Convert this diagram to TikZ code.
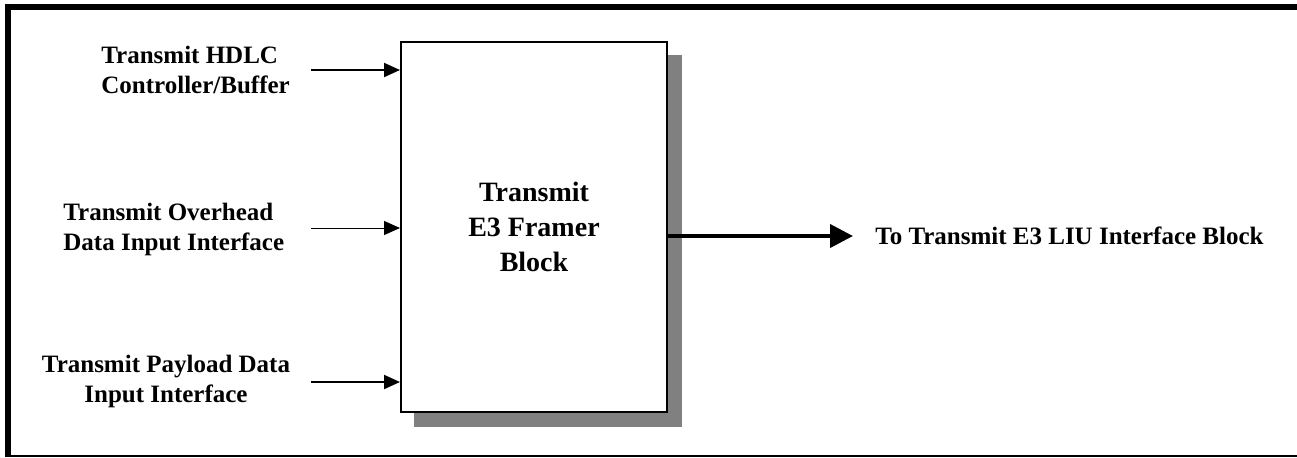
\documentclass[tikz,border=0pt]{standalone}
\usepackage{fontspec}
\setmainfont{Liberation Serif}
\usetikzlibrary{arrows.meta,backgrounds}

\begin{document}
\begin{tikzpicture}[x=0.5pt,y=-0.5pt,
  lbl/.style={font=\fontsize{12.5}{15}\selectfont\bfseries,inner sep=0pt},
  inarr/.style={line width=1pt,-{Triangle[length=8pt,width=7pt]}}]
  % shadow offset (px), arrow start x
  \def\SH{14}\def\xS{311}
  \useasboundingbox (0,0) rectangle (1297,457);
  % frame: heavy top + left, thin bottom
  \draw[line width=3pt] (7.5,457) -- (7.5,7) -- (1297,7);
  \draw[line width=1pt] (7.5,455.5) -- (1297,455.5);
  % framer block
  \node[draw,line width=1pt,fill=white,minimum width=133pt,minimum height=185pt,
    font=\fontsize{14}{17.5}\selectfont\bfseries,align=center] (blk) at (534,227)
    {Transmit\\E3 Framer\\Block};
  \begin{scope}[on background layer]
    \fill[black!50]([shift={(\SH,\SH)}]blk.south west) rectangle ([shift={(\SH,\SH)}]blk.north east);
  \end{scope}
  % inputs
  \node[lbl,align=left,anchor=west] (hdlc) at (101,70) {Transmit HDLC\\Controller/Buffer};
  \node[lbl,align=left,anchor=west] (ovh) at (63,229) {Transmit Overhead\\Data Input Interface};
  \node[lbl,align=center] (pay) at (166,381) {Transmit Payload Data\\Input Interface};
  \coordinate (hdlcS) at (\xS,70);
  \coordinate (ovhS) at (\xS,228);
  \coordinate (payS) at (\xS,382);
  \draw[inarr] (hdlcS) -- (hdlcS -| blk.west);
  \draw[inarr,line width=0.5pt] (ovhS) -- (ovhS -| blk.west);
  \draw[inarr] (payS) -- (payS -| blk.west);
  % output
  \node[lbl,anchor=west] (liu) at (875,236) {To Transmit E3 LIU Interface Block};
  \draw[line width=2pt,-{Triangle[length=11.5pt,width=11.5pt]}] (blk.east |- liu.west) -- ([xshift=-11pt]liu.west);
\end{tikzpicture}
\end{document}
